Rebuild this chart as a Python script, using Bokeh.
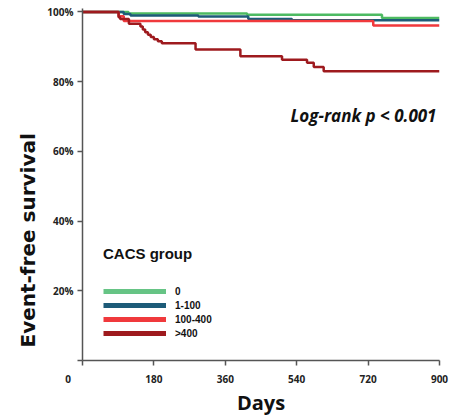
from bokeh.plotting import figure
from bokeh.models import Range1d, Label, Legend, LegendItem, FixedTicker, Title
from bokeh.embed import file_html
from bokeh.resources import INLINE

# Kaplan-Meier step data (days, survival %)
days_0 = [0, 116, 415, 755, 900]
surv_0 = [100, 99.6, 99.2, 98.3, 98.3]

days_1_100 = [0, 104, 121, 292, 418, 528, 900]
surv_1_100 = [100, 99.4, 99.0, 98.7, 98.0, 97.6, 97.6]

days_100_400 = [0, 91, 104, 733, 900]
surv_100_400 = [100, 98.8, 97.4, 96.1, 96.1]

days_400 = [0, 91, 95, 117, 146, 152, 158, 165, 172, 180, 190, 200, 285, 398, 503, 566, 583, 608, 900]
surv_400 = [100, 98.5, 98.0, 96.6, 95.8, 95.0, 94.2, 93.5, 92.8, 92.2, 91.6, 91.0, 89.2, 87.3, 86.3, 85.4, 84.2, 83.0, 83.0]

groups = ["0", "1-100", "100-400", ">400"]
colors = ["#4dba62", "#1d5b78", "#f0393c", "#9e1a1e"]
legend_colors = ["#66c485", "#1d5b78", "#f0393c", "#9e1a1e"]

x_ticks = [0, 180, 360, 540, 720, 900]
y_ticks = [0, 20, 40, 60, 80, 100]
y_tick_labels = {0: "", 20: "20%", 40: "40%", 60: "60%", 80: "80%", 100: "100%"}
x_tick_labels = {0: "0" + "\u00a0" * 11, 180: "180", 360: "360", 540: "540", 720: "720", 900: "900"}

p = figure(width=451, height=418, output_backend="svg", toolbar_location=None,
           x_range=Range1d(0, 900), y_range=Range1d(0, 101),
           min_border_left=82, min_border_right=12, min_border_top=8, min_border_bottom=49)
p.xgrid.visible = False
p.ygrid.visible = False
p.outline_line_color = None

series = [(days_0, surv_0), (days_1_100, surv_1_100), (days_100_400, surv_100_400), (days_400, surv_400)]
for (d, s), c in zip(series, colors):
    p.step(d, s, mode="after", line_color=c, line_width=2.5)

# legend with thick bars (dummy renderers holding a single NaN point)
items = []
for g, c in zip(groups, legend_colors):
    r = p.line([float("nan")], [float("nan")], line_color=c, line_width=5)
    items.append(LegendItem(label=g, renderers=[r]))
legend = Legend(items=items, location=(21, 20), title="CACS group",
                title_text_font="Liberation Sans", title_text_font_style="bold",
                title_text_font_size="15px", title_text_color="#111111", title_standoff=22,
                label_text_font="Liberation Sans", label_text_font_style="bold",
                label_text_font_size="10px", label_text_color="#111111",
                glyph_width=63, glyph_height=14, label_height=14, spacing=0,
                label_standoff=9, background_fill_alpha=0, border_line_color=None,
                padding=8, margin=0)
p.add_layout(legend)

for ax in (p.xaxis[0], p.yaxis[0]):
    ax.axis_line_color = "#555555"
    ax.axis_line_width = 1.5
    ax.major_tick_line_color = "#555555"
    ax.major_tick_line_width = 1.5
    ax.major_tick_out = 5
    ax.major_tick_in = 0
    ax.minor_tick_line_color = None
    ax.major_label_text_font = "Open Sans"
    ax.major_label_text_font_style = "bold"
    ax.major_label_text_font_size = "10px"
    ax.major_label_text_color = "#222222"

p.xaxis.ticker = FixedTicker(ticks=x_ticks)
p.yaxis.ticker = FixedTicker(ticks=y_ticks)
p.xaxis.major_label_overrides = x_tick_labels
p.yaxis.major_label_overrides = y_tick_labels
p.xaxis.major_label_standoff = 6
p.yaxis.major_label_standoff = 4

p.xaxis.axis_label = "Days"
p.xaxis.axis_label_text_font = "Open Sans"
p.xaxis.axis_label_text_font_style = "bold"
p.xaxis.axis_label_text_font_size = "20px"
p.xaxis.axis_label_text_color = "#111111"
p.xaxis.axis_label_standoff = 0

ytitle = Title(text="Event-free survival", align="left", offset=13,
               text_font="DejaVu Sans", text_font_style="bold",
               text_font_size="20px", text_color="#111111")
p.add_layout(ytitle, "left")

logrank = Label(x=208, y=245, x_units="screen", y_units="screen", text="Log-rank p < 0.001",
                text_font="Open Sans", text_font_style="bold italic", text_font_size="17px",
                text_color="#111111", text_align="left", text_baseline="middle")
p.add_layout(logrank)

open("out.html", "w").write(file_html(p, INLINE))
